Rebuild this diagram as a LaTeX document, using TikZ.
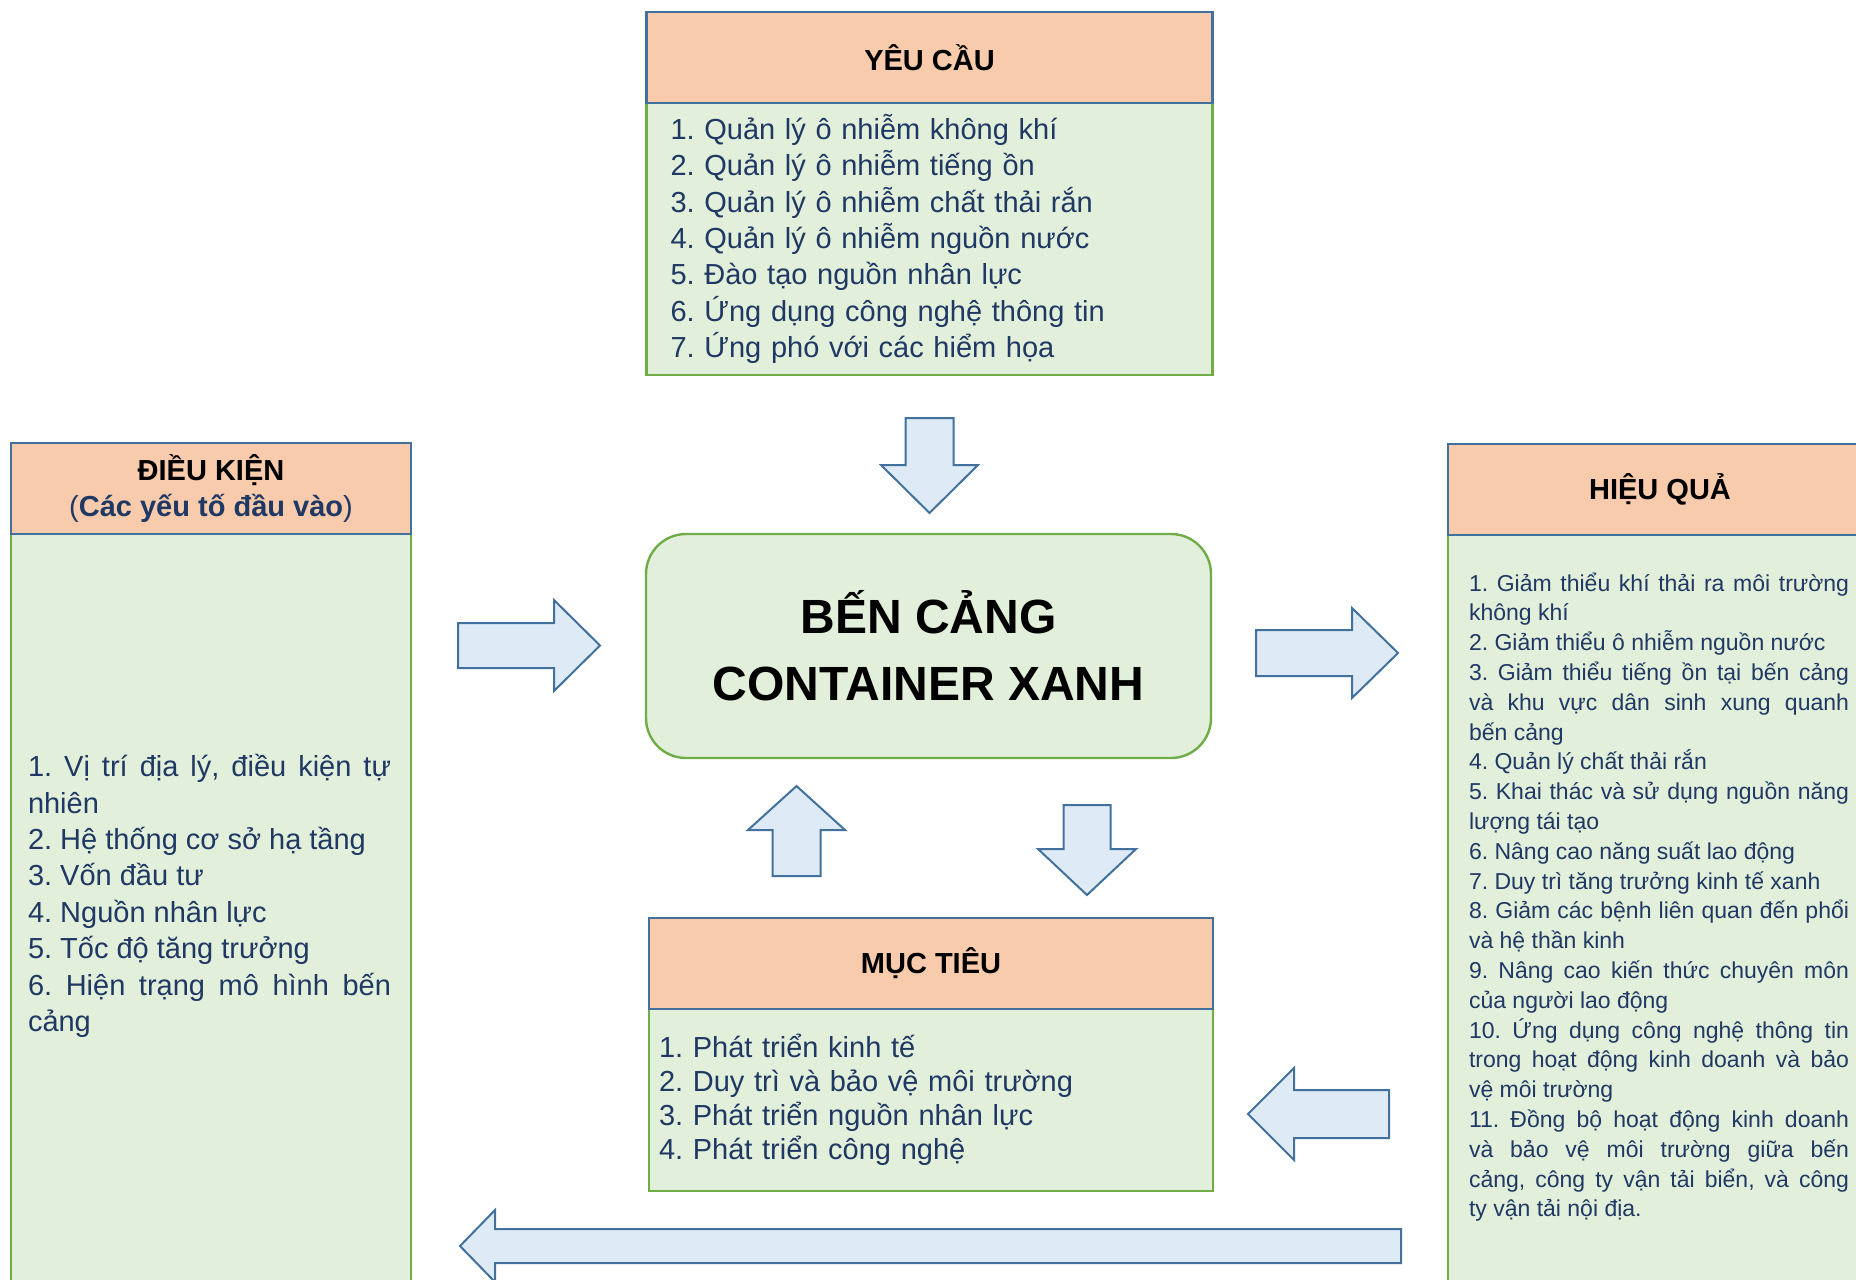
\documentclass[tikz,border=0pt]{standalone}
\usepackage{fontspec}
\setmainfont{Liberation Sans}
\usepackage{xcolor}
\definecolor{headfill}{HTML}{F8CBAD}
\definecolor{headline}{HTML}{41719C}
\definecolor{bodyfill}{HTML}{E2EFDA}
\definecolor{bodyline}{HTML}{70AD47}
\definecolor{arrowfill}{HTML}{DEEBF7}
\definecolor{textnavy}{HTML}{1F3864}
\usepackage{tikz}
\usetikzlibrary{positioning}
\hyphenpenalty=10000
\exhyphenpenalty=10000
\frenchspacing

\tikzset{
  pics/blockarrow/.style n args={4}{code={
    \draw[arrowshape] (0,-#2) -- (#1-#4,-#2) -- (#1-#4,-#3) -- (#1,0)
      -- (#1-#4,#3) -- (#1-#4,#2) -- (0,#2) -- cycle;
  }}
}

\begin{document}
\begin{tikzpicture}[
        x=0.5pt, y=-0.5pt,
        title/.style={rectangle, draw=headline, fill=headfill, line width=1.2pt, outer sep=0pt, minimum height=45.5pt, align=center, font=\bfseries\fontsize{14.5}{17.8}\selectfont},
        box/.style={rectangle, draw=bodyline, fill=bodyfill, line width=1.2pt, outer sep=0pt},
        list/.style={text=textnavy, inner sep=0pt, font=\fontsize{14.5}{18.2}\selectfont},
        arrowshape/.style={draw=headline, fill=arrowfill, line width=1pt}
    ]
        \useasboundingbox (0,0) rectangle (1856,1279);
        \clip (0,0) rectangle (1856,1279);

        % Yeu cau
        \node[box, list, anchor=north, minimum height=136pt, text width=259pt, inner xsep=12pt, align=left] (yc) at (929.5,103) {
            1. Quản lý ô nhiễm không khí\\
            2. Quản lý ô nhiễm tiếng ồn\\
            3. Quản lý ô nhiễm chất thải rắn\\
            4. Quản lý ô nhiễm nguồn nước\\
            5. Đào tạo nguồn nhân lực\\
            6. Ứng dụng công nghệ thông tin\\
            7. Ứng phó với các hiểm họa
        };
        \node[title, above=0pt of yc, minimum width=283pt] (ycname) {YÊU CẦU};

        % Dieu kien
        \node[box, anchor=north, minimum width=200pt, minimum height=380pt] (dk) at (211,534) {};
        \node[title, above=0pt of dk, minimum width=200pt] (dkname) {ĐIỀU KIỆN\\\textcolor{textnavy}{\textmd{(}Các yếu tố đầu vào\textmd{)}}};
        \node[list, text width=181.5pt, align=justify] (dktext) at (209.5,896) {
            1. Vị trí địa lý, điều kiện tự\linebreak nhiên\\
            2. Hệ thống cơ sở hạ tầng\\
            3. Vốn đầu tư\\
            4. Nguồn nhân lực\\
            5. Tốc độ tăng trưởng\\
            6. Hiện trạng mô hình bến\linebreak cảng
        };

        % Hieu qua
        \node[box, anchor=north, minimum width=212pt, minimum height=380pt] (hq) at (1660,535) {};
        \node[title, above=0pt of hq, minimum width=212pt] (hqname) {HIỆU QUẢ};
        \node[list, text width=190pt, align=justify, font=\fontsize{11.5}{14.9}\selectfont] (hqtext) at (1659,897) {
            1. Giảm thiểu khí thải ra môi trường\linebreak không khí\\
            2. Giảm thiểu ô nhiễm nguồn nước\\
            3. Giảm thiểu tiếng ồn tại bến cảng\linebreak và khu vực dân sinh xung quanh\linebreak bến cảng\\
            4. Quản lý chất thải rắn\\
            5. Khai thác và sử dụng nguồn năng\linebreak lượng tái tạo\\
            6. Nâng cao năng suất lao động\\
            7. Duy trì tăng trưởng kinh tế xanh\\
            8. Giảm các bệnh liên quan đến phổi\linebreak và hệ thần kinh\\
            9. Nâng cao kiến thức chuyên môn\linebreak của người lao động\\
            10. Ứng dụng công nghệ thông tin\linebreak trong hoạt động kinh doanh và bảo\linebreak vệ môi trường\\
            11. Đồng bộ hoạt động kinh doanh\linebreak và bảo vệ môi trường giữa bến\linebreak cảng, công ty vận tải biển, và công\linebreak ty vận tải nội địa.
        };

        % Ben cang
        \node[box, rounded corners=20pt, minimum width=282.5pt, minimum height=112pt, align=center, font=\bfseries\fontsize{24}{33.7}\selectfont] (port) at (928.5,646) {BẾN CẢNG\\CONTAINER XANH};

        % Muc tieu
        \node[box, list, anchor=north, minimum height=91pt, text width=272pt, inner xsep=5pt, align=left, font=\fontsize{14.5}{17}\selectfont] (mt) at (931,1009) {
            1. Phát triển kinh tế\\
            2. Duy trì và bảo vệ môi trường\\
            3. Phát triển nguồn nhân lực\\
            4. Phát triển công nghệ
        };
        \node[title, above=0pt of mt, minimum width=282pt] (mtname) {MỤC TIÊU};

        % Block arrows
        \pic[rotate=-90] (ycarrow) at (929.5,418) {blockarrow={95}{24}{48.5}{48}};
        \pic (dkarrow) at (458,645.5) {blockarrow={142}{22.5}{45.5}{46}};
        \pic (hqarrow) at (1256,653) {blockarrow={142}{23}{45}{46}};
        \pic[rotate=90] (uparrow) at (796.5,876) {blockarrow={90}{24}{48.5}{44}};
        \pic[rotate=-90] (downarrow) at (1087,805) {blockarrow={90}{23.5}{49}{46}};
        \pic[rotate=180] (backarrow) at (1389,1114) {blockarrow={141}{24}{46}{46}};
        \pic[rotate=180] (longarrow) at (1401,1246) {blockarrow={941}{17}{36}{35}};

    \end{tikzpicture}
\end{document}
